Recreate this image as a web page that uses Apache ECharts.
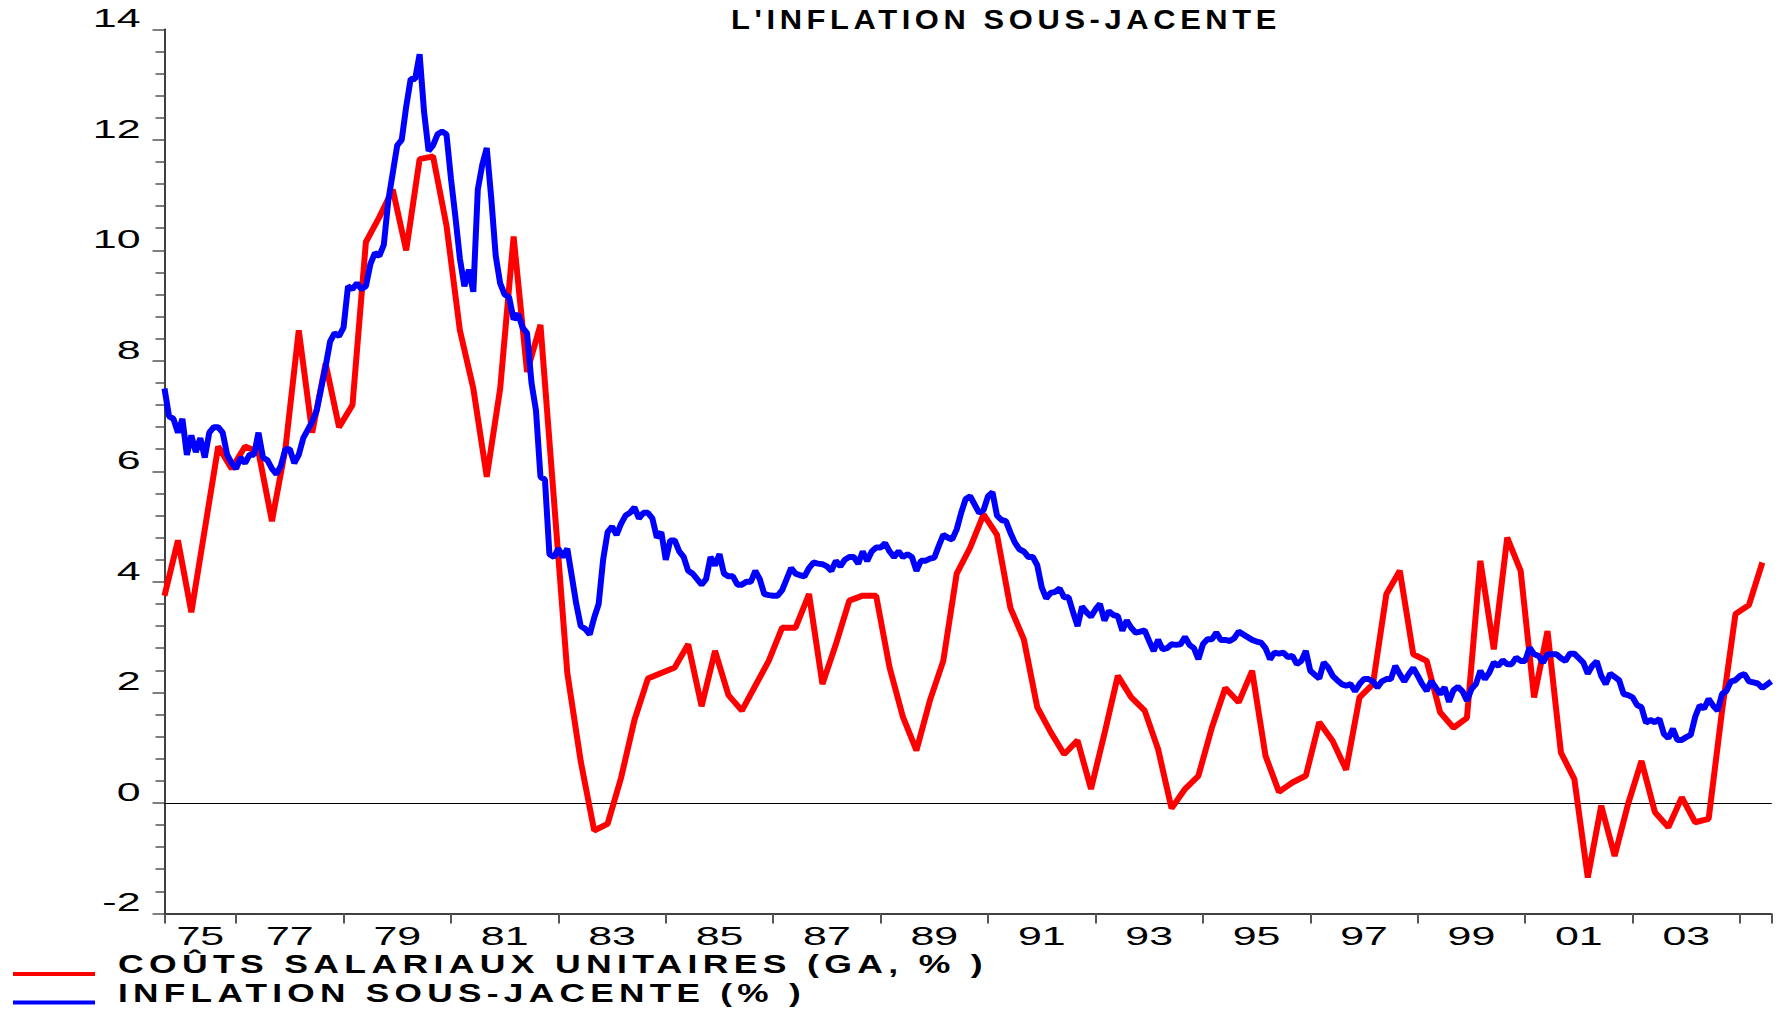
<!DOCTYPE html>
<html>
<head>
<meta charset="utf-8">
<title>L'inflation sous-jacente</title>
<script src="https://cdn.jsdelivr.net/npm/echarts/dist/echarts.min.js"></script>
<style>
html, body { margin: 0; padding: 0; background: #fff; }
#chart { width: 1780px; height: 1010px; }
/* title and legend are set with open letter spacing */
#chart text[style*="bold"] { letter-spacing: 0.15em; }
</style>
</head>
<body>
<div id="chart"></div>
<script>
// monthly axis, Sep 1975 .. Aug 2005
var startYear = 1975, startMonth = 9, monthCount = 360;
var tickLabels = ['75', '77', '79', '81', '83', '85', '87', '89', '91', '93', '95', '97', '99', '01', '03'];

// core inflation, y/y %, monthly from Sep 1975
var coreInflation = [
    7.5, 7.0, 6.95, 6.7, 6.95, 6.3, 6.65, 6.35, 6.6, 6.25,
    6.7, 6.8, 6.8, 6.7, 6.3, 6.15, 6.05, 6.25, 6.15, 6.3,
    6.3, 6.7, 6.25, 6.2, 6.05, 5.95, 6.1, 6.4, 6.4, 6.15,
    6.3, 6.6, 6.75, 6.9, 7.1, 7.5, 7.9, 8.35, 8.5, 8.45,
    8.6, 9.35, 9.3, 9.4, 9.3, 9.35, 9.75, 9.95, 9.9, 10.1,
    10.9, 11.4, 11.9, 12.0, 12.6, 13.1, 13.1, 13.55, 12.5, 11.8,
    11.9, 12.1, 12.15, 12.1, 11.3, 10.6, 9.85, 9.35, 9.65, 9.25,
    11.1, 11.55, 11.85, 10.95, 9.9, 9.4, 9.2, 9.15, 8.75, 8.85,
    8.6, 8.5, 7.6, 7.1, 5.9, 5.85, 4.5, 4.45, 4.6, 4.45,
    4.6, 4.1, 3.6, 3.2, 3.15, 3.05, 3.35, 3.6, 4.4, 4.9,
    5.0, 4.85, 5.05, 5.2, 5.25, 5.35, 5.15, 5.25, 5.25, 5.15,
    4.8, 4.9, 4.4, 4.75, 4.75, 4.55, 4.45, 4.2, 4.15, 4.05,
    3.95, 4.05, 4.45, 4.3, 4.5, 4.15, 4.1, 4.1, 3.95, 3.95,
    4.0, 4.0, 4.2, 4.05, 3.78, 3.76, 3.75, 3.75, 3.85, 4.05,
    4.25, 4.15, 4.12, 4.1, 4.25, 4.35, 4.33, 4.32, 4.28, 4.2,
    4.38, 4.28, 4.4, 4.45, 4.45, 4.33, 4.55, 4.38, 4.55, 4.62,
    4.62, 4.7, 4.55, 4.45, 4.55, 4.45, 4.5, 4.45, 4.2, 4.38,
    4.38, 4.42, 4.44, 4.65, 4.85, 4.8, 4.77, 4.95, 5.25, 5.5,
    5.55, 5.4, 5.25, 5.3, 5.55, 5.62, 5.2, 5.12, 5.1, 4.89,
    4.71, 4.59, 4.55, 4.45, 4.45, 4.3, 3.9, 3.7, 3.8, 3.82,
    3.88, 3.72, 3.72, 3.45, 3.2, 3.55, 3.45, 3.37, 3.5, 3.6,
    3.3, 3.47, 3.4, 3.38, 3.12, 3.3, 3.17, 3.08, 3.1, 3.12,
    2.93, 2.75, 2.95, 2.78, 2.8, 2.87, 2.86, 2.87, 3.0, 2.86,
    2.8, 2.6, 2.87, 2.96, 2.96, 3.08, 2.95, 2.95, 2.93, 2.98,
    3.1, 3.05, 3.0, 2.95, 2.92, 2.9, 2.8, 2.6, 2.72, 2.7,
    2.72, 2.64, 2.66, 2.51, 2.57, 2.75, 2.39, 2.32, 2.25, 2.54,
    2.45, 2.3, 2.22, 2.15, 2.12, 2.15, 2.02, 2.15, 2.24, 2.24,
    2.2, 2.09, 2.2, 2.24, 2.24, 2.48, 2.33, 2.2, 2.33, 2.44,
    2.3, 2.15, 2.03, 2.2, 2.09, 1.97, 2.09, 1.83, 2.04, 2.1,
    2.02, 1.85, 2.06, 2.15, 2.39, 2.24, 2.36, 2.54, 2.48, 2.58,
    2.51, 2.51, 2.63, 2.57, 2.57, 2.81, 2.69, 2.66, 2.54, 2.69,
    2.69, 2.69, 2.62, 2.57, 2.7, 2.7, 2.62, 2.54, 2.34, 2.48,
    2.56, 2.3, 2.15, 2.34, 2.28, 2.22, 1.97, 1.95, 1.91, 1.77,
    1.73, 1.45, 1.5, 1.46, 1.52, 1.25, 1.17, 1.34, 1.14, 1.14,
    1.19, 1.23, 1.56, 1.76, 1.71, 1.88, 1.76, 1.67, 1.97, 2.03,
    2.2, 2.22, 2.3, 2.33, 2.2, 2.18, 2.16, 2.08, 2.14, 2.2
];

// unit labour costs, y/y %, quarterly (one value every 3 months from Sep 1975)
var unitLabourCosts = [
    3.75, 4.75, 3.45, 4.95, 6.45, 6.05, 6.45, 6.35, 5.1, 6.4,
    8.55, 6.7, 7.95, 6.8, 7.2, 10.15, 10.6, 11.1, 10.0, 11.65,
    11.7, 10.45, 8.55, 7.5, 5.9, 7.5, 10.25, 7.8, 8.65, 5.5,
    2.35, 0.75, -0.5, -0.38, 0.45, 1.5, 2.25, 2.35, 2.45, 2.87,
    1.75, 2.75, 1.95, 1.67, 2.12, 2.57, 3.17, 3.17, 3.78, 2.15,
    2.87, 3.66, 3.75, 3.75, 2.45, 1.55, 0.95, 1.85, 2.57, 4.15,
    4.62, 5.22, 4.85, 3.53, 2.96, 1.73, 1.28, 0.88, 1.13, 0.25,
    1.25, 2.3, 1.91, 1.67, 0.97, -0.1, 0.25, 0.49, 1.36, 2.08,
    1.82, 2.39, 0.85, 0.2, 0.37, 0.49, 1.46, 1.12, 0.6, 1.91,
    2.15, 3.78, 4.2, 2.69, 2.57, 1.64, 1.36, 1.54, 4.38, 2.78,
    4.8, 4.2, 1.91, 3.11, 0.91, 0.43, -1.35, -0.05, -0.96, -0.02,
    0.76, -0.17, -0.44, 0.1, -0.35, -0.29, 1.67, 3.42, 3.58, 4.35
];

var seriesNames = ['COÛTS SALARIAUX UNITAIRES (GA, % )', 'INFLATION SOUS-JACENTE (% )'];
var titleText = "L'INFLATION SOUS-JACENTE";

var months = [];
for (var i = 0; i < monthCount; i++) {
    var y = startYear + Math.floor((startMonth - 1 + i) / 12);
    var m = (startMonth - 1 + i) % 12 + 1;
    months.push(y + '-' + (m < 10 ? '0' + m : m));
}

// ticks on January of odd years plus both ends of the axis
var tickMonths = [months[0]];
months.forEach(function (d) {
    if (d.slice(5) === '01' && +d.slice(0, 4) % 2 === 1) tickMonths.push(d);
});
tickMonths.push(months[monthCount - 1]);

// each year label sits in the middle of its tick interval
var labelAt = {};
tickLabels.forEach(function (t, k) {
    var a = months.indexOf(tickMonths[k]), b = months.indexOf(tickMonths[k + 1]);
    labelAt[months[Math.round((a + b) / 2)]] = t;
});

var ulcSeries = months.map(function (d, i) {
    return i % 3 === 0 ? unitLabourCosts[i / 3] : null;
});

var font = '"Liberation Sans", Arial, sans-serif';
var chart = echarts.init(document.getElementById('chart'), null, { renderer: 'svg' });

chart.setOption({
    animation: false,
    backgroundColor: '#fff',
    title: {
        text: titleText,
        left: 731,
        top: 6,
        padding: 0,
        textStyle: { fontFamily: font, fontSize: 27, fontWeight: 'bold', color: '#000' }
    },
    legend: {
        orient: 'vertical',
        left: 13,
        top: 950,
        padding: 0,
        itemWidth: 82,
        itemHeight: 24,
        itemGap: 0.5,
        icon: 'path://M0,0M0,20L82,20L82,24L0,24Z',
        data: seriesNames,
        textStyle: {
            fontFamily: font, fontSize: 26, fontWeight: 'bold', color: '#000',
            lineHeight: 28, padding: [0, 0, 0, 18]
        }
    },
    grid: { left: 164.5, right: 8.7, top: 29.3, bottom: 96.6 },
    xAxis: [
        {
            type: 'category',
            data: months,
            boundaryGap: false,
            position: 'bottom',
            axisLine: { onZero: false, lineStyle: { color: '#000', width: 1.5 } },
            axisTick: {
                interval: function (i, v) { return tickMonths.indexOf(v) >= 0; },
                length: 10,
                lineStyle: { color: '#555', width: 2 }
            },
            axisLabel: {
                interval: function (i, v) { return labelAt[v] !== undefined; },
                formatter: function (v) { return labelAt[v] || ''; },
                fontFamily: font, fontSize: 26, color: '#000', margin: 10
            },
            splitLine: { show: false }
        },
        {
            // zero line
            type: 'value', min: 0, max: 1, position: 'bottom',
            axisLine: { show: true, onZero: true, lineStyle: { color: '#000', width: 1.2 } },
            axisTick: { show: false },
            axisLabel: { show: false },
            splitLine: { show: false }
        }
    ],
    yAxis: {
        type: 'value',
        min: -2,
        max: 14,
        interval: 2,
        axisLine: { show: true, lineStyle: { color: '#000', width: 1.5 } },
        axisTick: { show: true, length: 12, lineStyle: { color: '#555', width: 1.5 } },
        minorTick: { show: true, splitNumber: 5, length: 9, lineStyle: { color: '#555', width: 1.5 } },
        axisLabel: {
            fontFamily: font, fontSize: 26, color: '#000', margin: 24,
            verticalAlign: 'bottom', lineHeight: 22
        },
        splitLine: { show: false }
    },
    series: [
        {
            name: seriesNames[0],
            type: 'line',
            data: ulcSeries,
            connectNulls: true,
            symbol: 'none',
            showSymbol: false,
            lineStyle: { color: '#ff0000', width: 6 },
            itemStyle: { color: '#ff0000' }
        },
        {
            name: seriesNames[1],
            type: 'line',
            data: coreInflation,
            symbol: 'none',
            showSymbol: false,
            lineStyle: { color: '#0000ff', width: 6 },
            itemStyle: { color: '#0000ff' }
        }
    ]
});

// the source picture is stretched sideways: widen the svg texts the same way
var textWidths = {};
textWidths[titleText] = 550;
textWidths[seriesNames[0]] = 870;
textWidths[seriesNames[1]] = 688;
function stretchTexts() {
    var texts = document.querySelectorAll('#chart text');
    [].slice.call(texts).forEach(function (t) {
        if (t.getAttribute('textLength')) return;
        var s = t.textContent;
        var w = textWidths[s];
        if (!w && /^-?\d+$/.test(s)) w = t.getComputedTextLength() * 1.65;
        if (!w) return;
        t.setAttribute('textLength', w);
        t.setAttribute('lengthAdjust', 'spacingAndGlyphs');
    });
}
stretchTexts();
chart.on('finished', stretchTexts);
</script>
</body>
</html>
